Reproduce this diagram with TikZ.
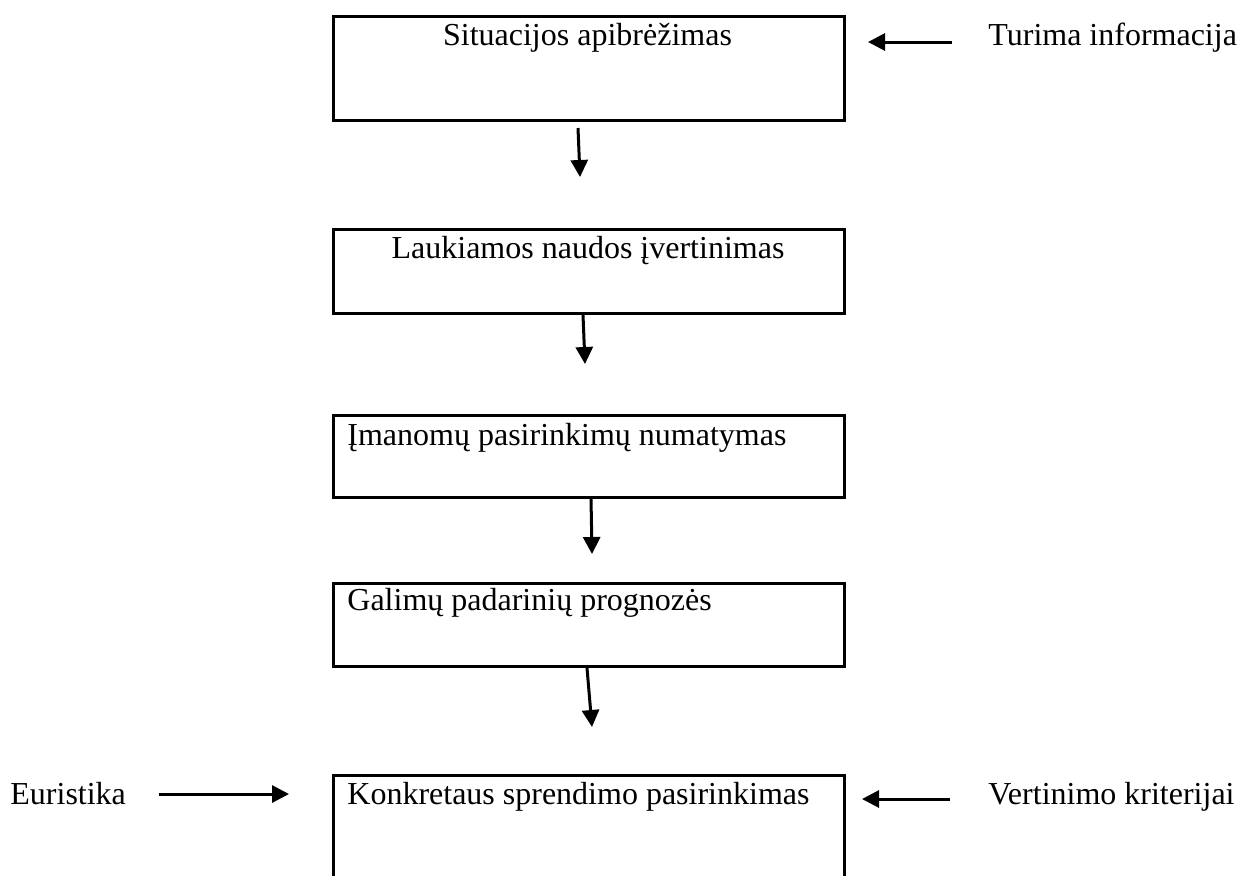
\documentclass[tikz,border=0pt]{standalone}
\usepackage{fontspec}
\setmainfont{Liberation Serif}
\usetikzlibrary{arrows.meta}
\begin{document}
\begin{tikzpicture}[x=0.5pt,y=-0.5pt,
  box/.style={draw,line width=1.5pt,anchor=north west,inner sep=0pt,minimum width=255.5pt},
  lbl/.style={inner sep=0pt,font=\fontsize{16}{19}\selectfont},
  arr/.style={line width=1.5pt,-{Triangle[length=8.5pt,width=8.5pt]}}]
\clip (0,0) rectangle (1241,875);
% boxes
\node[box,minimum height=52pt] (b1) at (332,15) {};
\node[box,minimum height=42pt] (b2) at (332,228) {};
\node[box,minimum height=41pt] (b3) at (332,414) {};
\node[box,minimum height=41.5pt] (b4) at (332,582) {};
\node[box,minimum height=65pt] (b5) at (332,774) {};
% box texts
\node[lbl,anchor=base] (t1) at (587.5,45) {Situacijos apibrėžimas};
\node[lbl,anchor=base] (t2) at (588,258) {Laukiamos naudos įvertinimas};
\node[lbl,anchor=base west] (t3) at (347,445) {Įmanomų pasirinkimų numatymas};
\node[lbl,anchor=base west] (t4) at (347,610) {Galimų padarinių prognozės};
\node[lbl,anchor=base west] (t5) at (347,804) {Konkretaus sprendimo pasirinkimas};
% side texts
\node[lbl,anchor=base west] (turima) at (988,45) {Turima informacija};
\node[lbl,anchor=base west] (eur) at (10,804) {Euristika};
\node[lbl,anchor=base west] (vert) at (988,804) {Vertinimo kriterijai};
% arrow end points
\coordinate (a1s) at (578,128); \coordinate (a1e) at (580,177);
\coordinate (a2s) at (583,315); \coordinate (a2e) at (585,364);
\coordinate (a3s) at (591,498); \coordinate (a3e) at (592,554);
\coordinate (a4s) at (587,668); \coordinate (a4e) at (592,727);
\coordinate (ts) at (952,42);   \coordinate (te) at (868,42);
\coordinate (es) at (159,794);  \coordinate (ee) at (289,794);
\coordinate (vs) at (950,799);  \coordinate (ve) at (862,799);
% arrows
\draw[arr] (a1s) -- (a1e);
\draw[arr] (a2s) -- (a2e);
\draw[arr] (a3s) -- (a3e);
\draw[arr] (a4s) -- (a4e);
\draw[arr] (ts) -- (te);
\draw[arr] (es) -- (ee);
\draw[arr] (vs) -- (ve);
\end{tikzpicture}
\end{document}
